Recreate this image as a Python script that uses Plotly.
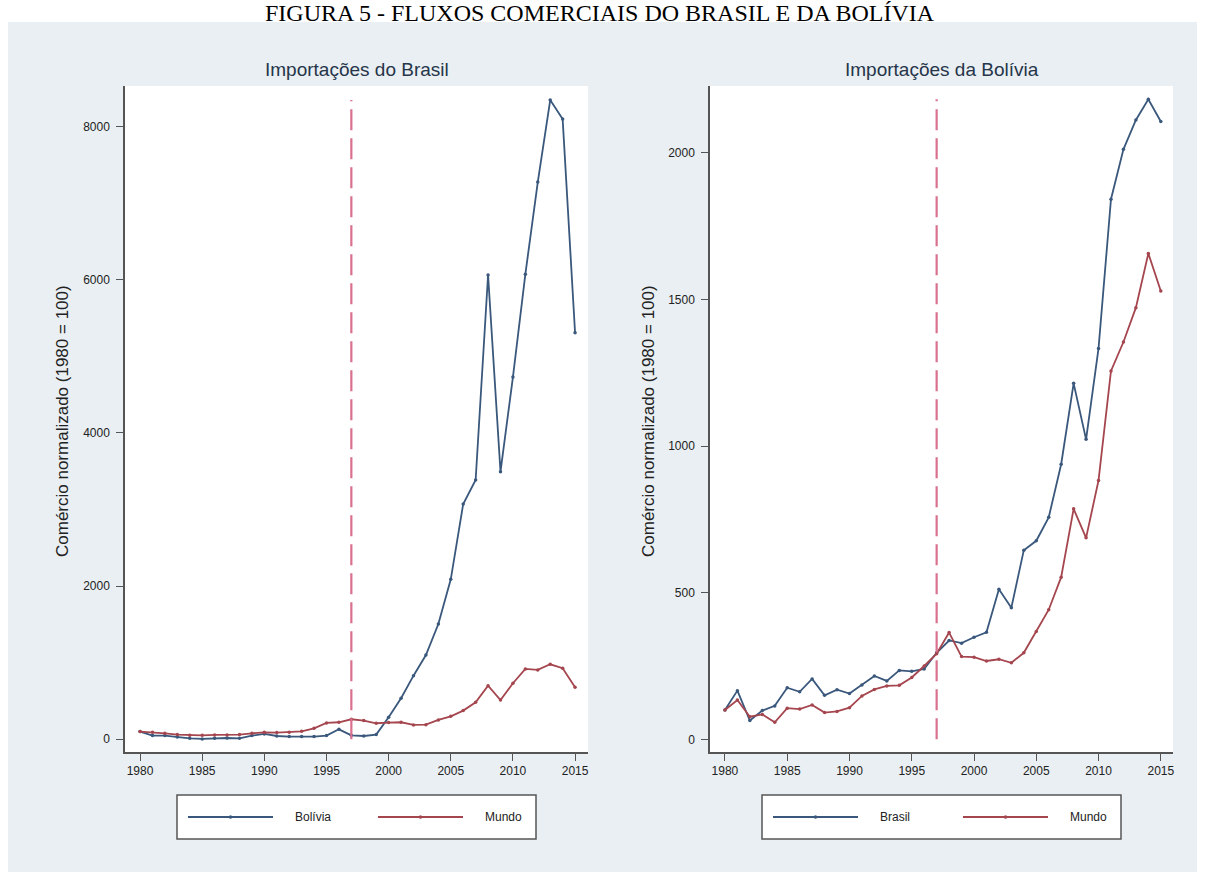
import plotly.graph_objects as go

W, H = 1205, 882

# Anos da série
anos = [1980, 1981, 1982, 1983, 1984, 1985, 1986, 1987, 1988, 1989,
        1990, 1991, 1992, 1993, 1994, 1995, 1996, 1997, 1998, 1999,
        2000, 2001, 2002, 2003, 2004, 2005, 2006, 2007, 2008, 2009,
        2010, 2011, 2012, 2013, 2014, 2015]

# Importações do Brasil (1980 = 100)
br_de_bolivia = [100, 48, 48, 30, 13, 5, 13, 17, 13, 48,
                 70, 43, 35, 35, 35, 48, 130, 52, 43, 61,
                 287, 535, 830, 1100, 1505, 2088, 3071, 3384, 6059, 3493,
                 4728, 6070, 7273, 8342, 8095, 5306]
br_do_mundo = [100, 91, 78, 61, 52, 52, 57, 57, 61, 78,
               91, 87, 91, 104, 143, 213, 222, 261, 244, 209,
               218, 222, 187, 191, 252, 300, 374, 483, 700, 513,
               731, 918, 905, 979, 927, 679]

# Importações da Bolívia (1980 = 100)
bo_do_brasil = [100, 166, 64, 98, 114, 176, 162, 206, 150, 169,
                156, 185, 216, 199, 235, 232, 240, 295, 337, 328,
                348, 365, 512, 449, 645, 677, 757, 938, 1214, 1023,
                1333, 1842, 2012, 2112, 2183, 2107]
bo_do_mundo = [100, 134, 77, 85, 58, 106, 103, 117, 91, 95,
               108, 148, 170, 182, 184, 211, 250, 292, 364, 282,
               280, 267, 273, 261, 295, 368, 442, 553, 786, 687,
               883, 1256, 1355, 1472, 1657, 1529]

ano_corte = 1997
ticks_x = [1980, 1985, 1990, 1995, 2000, 2005, 2010, 2015]
ticks_y_br = [0, 2000, 4000, 6000, 8000]
ticks_y_bo = [0, 500, 1000, 1500, 2000]

titulo = "FIGURA 5 - FLUXOS COMERCIAIS DO BRASIL E DA BOLÍVIA"
sub_br = "Importações do Brasil"
sub_bo = "Importações da Bolívia"
titulo_y = "Comércio normalizado (1980 = 100)"

AZUL = "#3a587c"
VERM = "#a5464f"
ROSA = "#d9708e"
PAINEL = "#e9eff2"
EIXO = "#555555"
TXT = "#222222"
FONTE = "Liberation Sans, Arial, sans-serif"


def px(xp):
    return xp / W


def py(yp):
    return 1 - yp / H


fig = go.Figure()

series = [
    (br_de_bolivia, AZUL, "x", "y"),
    (br_do_mundo, VERM, "x", "y"),
    (bo_do_brasil, AZUL, "x2", "y2"),
    (bo_do_mundo, VERM, "x2", "y2"),
]
for vals, cor, xa, ya in series:
    fig.add_trace(go.Scatter(
        x=anos, y=vals, mode="lines+markers", xaxis=xa, yaxis=ya,
        line=dict(color=cor, width=1.8),
        marker=dict(color=cor, size=3.5, symbol="circle"),
        showlegend=False, hoverinfo="skip"))

shapes = []
# painel de fundo
shapes.append(dict(type="rect", xref="paper", yref="paper", layer="below",
                   x0=px(8), x1=px(1197), y0=py(872), y1=py(22),
                   fillcolor=PAINEL, line=dict(width=0)))
# áreas de plotagem brancas
for x0, x1 in [(125, 588), (710, 1173)]:
    shapes.append(dict(type="rect", xref="paper", yref="paper", layer="below",
                       x0=px(x0), x1=px(x1), y0=py(752), y1=py(86),
                       fillcolor="white", line=dict(width=0)))

# linha vertical tracejada em 1997
for xr, yr, dados in [("x", "y", br_de_bolivia + br_do_mundo),
                      ("x2", "y2", bo_do_brasil + bo_do_mundo)]:
    shapes.append(dict(type="line", xref=xr, yref=yr,
                       x0=ano_corte, x1=ano_corte, y0=0, y1=max(dados),
                       line=dict(color=ROSA, width=2.2, dash="21px,8px")))

annotations = []
annotations.append(dict(text=titulo, xref="paper", yref="paper",
                        x=px(600), y=py(13), xanchor="center", yanchor="middle",
                        showarrow=False,
                        font=dict(family="Liberation Serif, Times New Roman, serif",
                                  size=24, color="#000000")))
for cx, texto in [(356.5, sub_br), (941.5, sub_bo)]:
    annotations.append(dict(text=texto, xref="paper", yref="paper",
                            x=px(cx), y=py(70), xanchor="center", yanchor="middle",
                            showarrow=False,
                            font=dict(family=FONTE, size=19, color="#26354a")))
for cx in [62, 648]:
    annotations.append(dict(text=titulo_y, xref="paper", yref="paper",
                            x=px(cx), y=py(421), xanchor="center", yanchor="middle",
                            textangle=-90, showarrow=False,
                            font=dict(family=FONTE, size=17, color=TXT)))

# legendas
legendas = [
    (177, [("Bolívia", AZUL), ("Mundo", VERM)]),
    (762, [("Brasil", AZUL), ("Mundo", VERM)]),
]
for bx, itens in legendas:
    shapes.append(dict(type="rect", xref="paper", yref="paper",
                       x0=px(bx), x1=px(bx + 359), y0=py(839), y1=py(795),
                       fillcolor="white", line=dict(color=EIXO, width=1.5)))
    for i, (nome, cor) in enumerate(itens):
        lx0 = bx + 11 + i * 190
        lx1 = lx0 + 85
        shapes.append(dict(type="line", xref="paper", yref="paper",
                           x0=px(lx0), x1=px(lx1), y0=py(817), y1=py(817),
                           line=dict(color=cor, width=1.8)))
        mx = (lx0 + lx1) / 2
        shapes.append(dict(type="circle", xref="paper", yref="paper",
                           x0=px(mx - 1.5), x1=px(mx + 1.5),
                           y0=py(818.5), y1=py(815.5),
                           fillcolor=cor, line=dict(color=cor, width=0.5)))
        annotations.append(dict(text=nome, xref="paper", yref="paper",
                                x=px(lx1 + 20), y=py(817), xanchor="left",
                                yanchor="middle", showarrow=False,
                                font=dict(family=FONTE, size=12, color=TXT)))

eixo_x = dict(tickmode="array", tickvals=ticks_x, ticks="outside", ticklen=7,
              tickwidth=1.2, tickcolor=EIXO, showline=True, linecolor=EIXO,
              linewidth=1.5, showgrid=False, zeroline=False,
              tickfont=dict(family=FONTE, size=12, color=TXT))
eixo_y = dict(ticks="outside", ticklen=7, tickwidth=1.2, tickcolor=EIXO,
              showline=True, linecolor=EIXO, linewidth=1.5, showgrid=False,
              zeroline=False, ticklabelstandoff=4,
              tickfont=dict(family=FONTE, size=12, color=TXT))

fig.update_layout(
    width=W, height=H,
    margin=dict(l=0, r=0, t=0, b=0),
    paper_bgcolor="white",
    plot_bgcolor="rgba(0,0,0,0)",
    xaxis=dict(eixo_x, domain=[px(125), px(588)], range=[1978.79, 2016.04],
               anchor="y"),
    yaxis=dict(eixo_y, domain=[py(752), py(86)], range=[-166, 8526],
               tickmode="array", tickvals=ticks_y_br, anchor="x"),
    xaxis2=dict(eixo_x, domain=[px(710), px(1173)], range=[1978.8, 2015.98],
                anchor="y2"),
    yaxis2=dict(eixo_y, domain=[py(752), py(86)], range=[-43.3, 2228],
                tickmode="array", tickvals=ticks_y_bo, anchor="x2"),
    shapes=shapes,
    annotations=annotations,
)

fig.write_html("out.html")
